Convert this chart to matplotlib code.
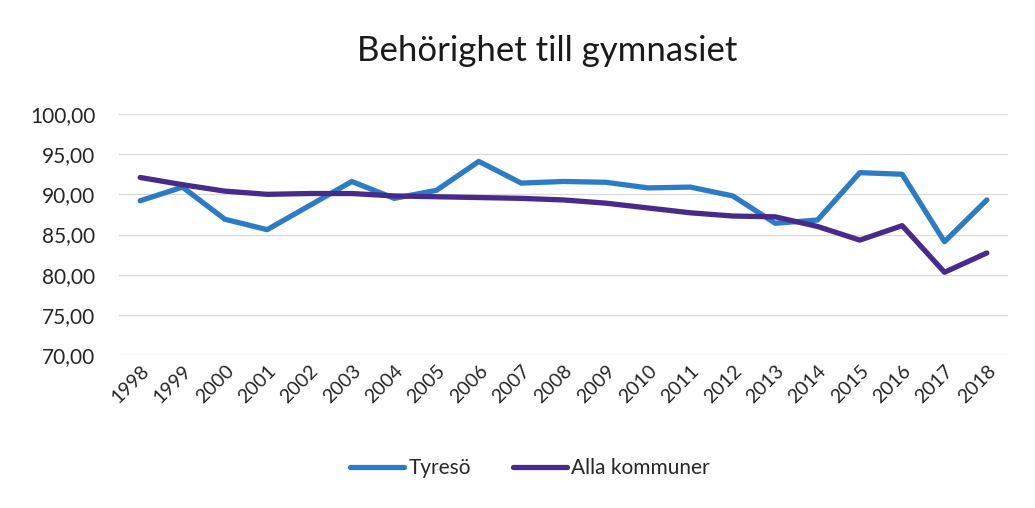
import matplotlib
matplotlib.use("Agg")
import matplotlib.pyplot as plt
from matplotlib.ticker import FuncFormatter

years = [str(y) for y in range(1998, 2019)]
tyreso = [89.2, 90.9, 86.9, 85.6, 88.6, 91.6, 89.5, 90.5, 94.1, 91.4, 91.6,
          91.5, 90.8, 90.9, 89.8, 86.4, 86.8, 92.7, 92.5, 84.1, 89.3]
alla = [92.1, 91.2, 90.4, 90.0, 90.1, 90.1, 89.8, 89.7, 89.6, 89.5, 89.3,
        88.9, 88.3, 87.7, 87.3, 87.2, 86.0, 84.3, 86.1, 80.3, 82.7]
yticks = [70, 75, 80, 85, 90, 95, 100]

plt.rcParams['font.family'] = ['Lato', 'DejaVu Sans']

fig = plt.figure(figsize=(10.35, 5.08), dpi=100)
ax = fig.add_axes([119/1035, 1-355/508, (1008-119)/1035, (355-114)/508])

x = list(range(len(years)))
ax.plot(x, tyreso, color='#2B7CC4', lw=3.8, solid_capstyle='round',
        solid_joinstyle='round', label='Tyresö', zorder=3)
ax.plot(x, alla, color='#472B8A', lw=3.8, solid_capstyle='round',
        solid_joinstyle='round', label='Alla kommuner', zorder=4)

ax.set_xlim(-0.5, len(years) - 0.5)
ax.set_ylim(70, 100)
ax.set_yticks(yticks)
ax.yaxis.set_major_formatter(FuncFormatter(lambda v, p: f"{v:.2f}".replace('.', ',')))
ax.set_xticks(x)
ax.set_xticklabels(years, rotation=45, ha='right', rotation_mode='anchor')
ax.tick_params(axis='y', length=0, labelsize=15, colors='#262626', pad=17)
ax.tick_params(axis='x', length=0, labelsize=14, colors='#262626', pad=5)
ax.grid(axis='y', color='#d9d9d9', lw=0.9)
for s in ax.spines.values():
    s.set_visible(False)

fig.text(547/1035, 1-51/508, 'Behörighet till gymnasiet', ha='center', va='center',
         fontsize=25, color='#1a1a1a')

fig.legend(loc='center', bbox_to_anchor=(530/1035, 1-468/508), ncol=2, frameon=False,
           fontsize=15, handlelength=2.6, columnspacing=2.0, handletextpad=0.2,
           labelcolor='#262626')

fig.savefig('out.png', dpi=100, facecolor='white')
